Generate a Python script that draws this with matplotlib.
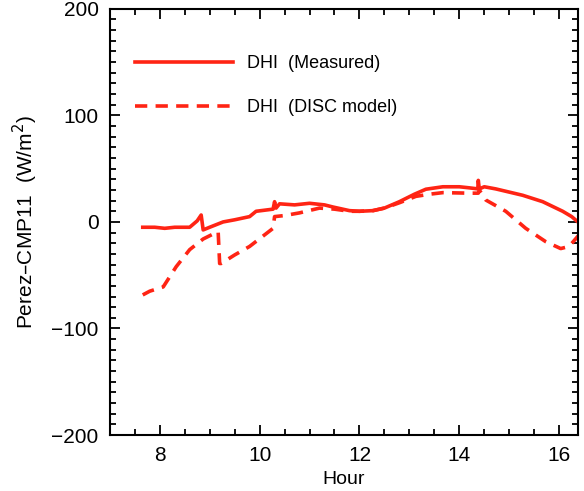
import matplotlib.pyplot as plt
from matplotlib.ticker import MultipleLocator

plt.rcParams['font.family'] = ['Liberation Sans', 'DejaVu Sans']

# values (hour, W/m^2)
hours_meas = [7.66, 7.9, 8.1, 8.3, 8.6, 8.75, 8.83, 8.87, 9.0, 9.27, 9.5, 9.8, 9.93,
              10.1, 10.27, 10.3, 10.33, 10.4, 10.7, 11.0, 11.3, 11.47, 11.8, 12.0,
              12.27, 12.5, 12.8, 13.1, 13.33, 13.67, 14.0, 14.2, 14.37, 14.38, 14.4,
              14.5, 14.73, 15.0, 15.27, 15.67, 16.07, 16.25, 16.4]
dhi_meas = [-5, -5, -6, -5, -5, 1, 6.5, -7.5, -5, 0, 2, 5, 10,
            11, 12, 19, 13, 17, 16, 17.5, 16, 14, 10.6, 10,
            10.6, 13, 19, 26, 30.7, 33, 33, 32, 31, 39, 31,
            33, 31, 28, 25, 19, 10, 5, -1]

hours_disc = [7.66, 7.8, 8.07, 8.33, 8.6, 8.87, 9.17, 9.2, 9.23, 9.5, 9.8, 10.27,
              10.3, 10.5, 10.8, 11.2, 11.5, 11.8, 12.0, 12.27, 12.5, 12.8, 13.13,
              13.4, 13.67, 14.2, 14.38, 14.4, 14.53, 14.93, 15.33, 15.73, 16.03,
              16.2, 16.4]
dhi_disc = [-68.5, -65, -61, -42, -26, -16, -9, -39, -39, -31, -23, -6,
            5, 6, 8.5, 13, 12, 10, 10, 10.6, 13, 18, 24,
            26, 27.5, 27, 27, 30, 20.6, 10, -6, -18.5, -25,
            -23, -12]

red = '#ff2414'

fig = plt.figure(figsize=(5.84, 4.91), dpi=100)
ax = fig.add_axes([0.188, 0.114, 0.802, 0.868])

ax.plot(hours_meas, dhi_meas, color=red, lw=2.6, label='DHI  (Measured)')
ax.plot(hours_disc, dhi_disc, color=red, lw=2.6, dashes=(3.4, 2.3), label='DHI  (DISC model)')

ax.set_xlim(7, 16.38)
ax.set_ylim(-200, 200)
ax.xaxis.set_major_locator(MultipleLocator(2))
ax.xaxis.set_minor_locator(MultipleLocator(0.5))
ax.yaxis.set_major_locator(MultipleLocator(100))
ax.yaxis.set_minor_locator(MultipleLocator(10))
ax.tick_params(which='both', direction='in', top=True, right=True, width=1.3, labelsize=15, pad=8)
ax.tick_params(which='major', length=7)
ax.tick_params(which='minor', length=4)
for s in ax.spines.values():
    s.set_linewidth(1.5)

ax.set_xlabel('Hour', fontsize=14, labelpad=4)
ax.set_ylabel('Perez–CMP11  (W/m$^2$)', fontsize=15, labelpad=8)

ax.legend(loc='upper left', frameon=False, fontsize=13, handlelength=5.4,
          handletextpad=0.8, labelspacing=1.5, bbox_to_anchor=(0.02, 0.93))

fig.savefig('out.png')
